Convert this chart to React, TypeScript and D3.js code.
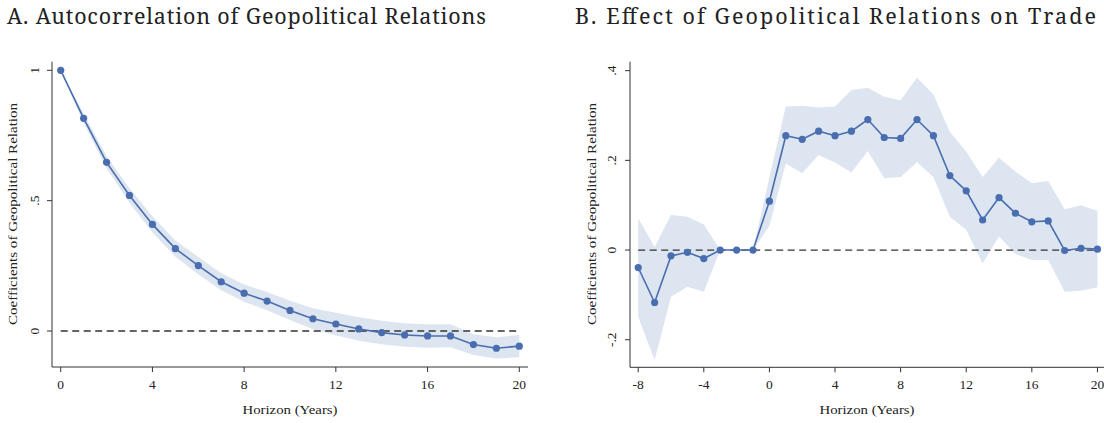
import React from "react";
import * as d3 from "d3";

const horizonA = [0, 1, 2, 3, 4, 5, 6, 7, 8, 9, 10, 11, 12, 13, 14, 15, 16, 17, 18, 19, 20];
const coefA = [1.0, 0.816, 0.647, 0.52, 0.409, 0.316, 0.251, 0.189, 0.145, 0.115, 0.079, 0.047, 0.027, 0.008, -0.006, -0.015, -0.019, -0.019, -0.052, -0.066, -0.058];
const upperA = [1.0, 0.834, 0.67, 0.548, 0.44, 0.347, 0.284, 0.222, 0.178, 0.15, 0.116, 0.087, 0.07, 0.053, 0.039, 0.03, 0.026, 0.026, -0.012, -0.024, -0.015];
const lowerA = [1.0, 0.798, 0.624, 0.492, 0.378, 0.285, 0.218, 0.156, 0.112, 0.08, 0.042, 0.007, -0.016, -0.037, -0.051, -0.06, -0.064, -0.062, -0.092, -0.105, -0.101];
const xTicksA = [0, 4, 8, 12, 16, 20];
const yTicksA = [0, 0.5, 1];

const horizonB = [-8, -7, -6, -5, -4, -3, -2, -1, 0, 1, 2, 3, 4, 5, 6, 7, 8, 9, 10, 11, 12, 13, 14, 15, 16, 17, 18, 19, 20];
const coefB = [-0.039, -0.117, -0.013, -0.005, -0.019, 0, 0, 0, 0.109, 0.255, 0.247, 0.265, 0.255, 0.265, 0.291, 0.251, 0.249, 0.291, 0.255, 0.166, 0.132, 0.067, 0.117, 0.082, 0.063, 0.065, -0.001, 0.004, 0.002];
const upperB = [0.071, 0.007, 0.078, 0.074, 0.057, 0, 0, 0, 0.162, 0.32, 0.322, 0.318, 0.32, 0.357, 0.362, 0.342, 0.334, 0.384, 0.347, 0.264, 0.219, 0.163, 0.206, 0.175, 0.149, 0.154, 0.091, 0.1, 0.087];
const lowerB = [-0.149, -0.245, -0.104, -0.082, -0.093, 0, 0, 0, 0.054, 0.193, 0.171, 0.212, 0.195, 0.173, 0.221, 0.16, 0.163, 0.196, 0.163, 0.074, 0.045, -0.03, 0.031, -0.009, -0.022, -0.022, -0.093, -0.091, -0.083];
const xTicksB = [-8, -4, 0, 4, 8, 12, 16, 20];
const yTicksB = [-0.2, 0, 0.2, 0.4];

const fmt = (v: number) => {
  if (v === 0) return "0";
  let s = String(Math.round(v * 1000) / 1000);
  s = s.replace(/^0\./, ".").replace(/^-0\./, "-.");
  return s;
};

const LINE = "#4a6db0";
const BAND = "#dce5f0";
const AXIS = "#333333";
const AXFONT = { fontFamily: '"Liberation Serif"' };
const TITLEFONT = { fontFamily: '"Noto Serif"' };

type PanelProps = {
  title: string;
  titleX: number;
  titleLen: number;
  xs: number[];
  ys: number[];
  lo: number[];
  hi: number[];
  xDomain: [number, number];
  yDomain: [number, number];
  xRange: [number, number];
  yRange: [number, number];
  xTicks: number[];
  yTicks: number[];
  tickLabelX: number;
  yLabelX: number;
};

function Panel(p: PanelProps) {
  const x = d3.scaleLinear().domain(p.xDomain).range(p.xRange);
  const y = d3.scaleLinear().domain(p.yDomain).range(p.yRange);
  const pts = p.xs.map((h, i) => ({ h, v: p.ys[i], lo: p.lo[i], hi: p.hi[i] }));
  const area = d3
    .area<any>()
    .x((d) => x(d.h))
    .y0((d) => y(d.lo))
    .y1((d) => y(d.hi));
  const line = d3
    .line<any>()
    .x((d) => x(d.h))
    .y((d) => y(d.v));
  const [x0, x1] = p.xRange;
  const [yb, yt] = p.yRange;
  const xFirst = p.xs[0];
  const xLast = p.xs[p.xs.length - 1];
  const midX = (x0 + x1) / 2;
  return (
    <g>
      <text x={p.titleX} y={24} style={{ ...TITLEFONT, fontSize: 21.5 }} fill="#222" textLength={p.titleLen} lengthAdjust="spacing">
        {p.title}
      </text>
      <path d={area(pts) || ""} fill={BAND} />
      <line x1={x(xFirst)} x2={x(xLast)} y1={y(0)} y2={y(0)} stroke="#333" strokeWidth={1.3} strokeDasharray="7,4.5" />
      <path d={line(pts) || ""} fill="none" stroke={LINE} strokeWidth={1.6} />
      {pts.map((d, i) => (
        <circle key={i} cx={x(d.h)} cy={y(d.v)} r={3.6} fill={LINE} />
      ))}
      <line x1={x0} x2={x0} y1={yt} y2={yb} stroke={AXIS} strokeWidth={1} />
      <line x1={x0} x2={x1} y1={yb} y2={yb} stroke={AXIS} strokeWidth={1} />
      {p.yTicks.map((t) => (
        <g key={"y" + t}>
          <line x1={x0 - 5} x2={x0} y1={y(t)} y2={y(t)} stroke={AXIS} strokeWidth={1} />
          <text
            transform={`translate(${p.tickLabelX},${y(t)}) rotate(-90)`}
            textAnchor="middle"
            style={{ ...AXFONT, fontSize: 13.5 }}
            fill="#222"
          >
            {fmt(t)}
          </text>
        </g>
      ))}
      {p.xTicks.map((t) => (
        <g key={"x" + t}>
          <line x1={x(t)} x2={x(t)} y1={yb} y2={yb + 5} stroke={AXIS} strokeWidth={1} />
          <text x={x(t)} y={389} textAnchor="middle" style={{ ...AXFONT, fontSize: 13.5 }} fill="#222">
            {fmt(t)}
          </text>
        </g>
      ))}
      <text
        x={midX}
        y={414}
        textAnchor="middle"
        style={{ ...AXFONT, fontSize: 13.5 }}
        fill="#222"
        textLength={95}
        lengthAdjust="spacingAndGlyphs"
      >
        Horizon (Years)
      </text>
      <text
        transform={`translate(${p.yLabelX},${214}) rotate(-90)`}
        textAnchor="middle"
        style={{ ...AXFONT, fontSize: 13.5 }}
        fill="#222"
        textLength={222}
        lengthAdjust="spacingAndGlyphs"
      >
        Coefficients of Geopolitical Relation
      </text>
    </g>
  );
}

export default function App() {
  return (
    <svg
      width={1104}
      height={423}
      style={{ position: "absolute", left: 0, top: 0, background: "#fff" }}
    >
      <rect width={1104} height={423} fill="#fff" />
      <Panel
        title="A. Autocorrelation of Geopolitical Relations"
        titleX={7}
        titleLen={479}
        xs={horizonA}
        ys={coefA}
        lo={lowerA}
        hi={upperA}
        xDomain={[-0.38, 20.38]}
        yDomain={[-0.138, 1.033]}
        xRange={[52, 528]}
        yRange={[367, 61.7]}
        xTicks={xTicksA}
        yTicks={yTicksA}
        tickLabelX={39}
        yLabelX={17}
      />
      <Panel
        title="B. Effect of Geopolitical Relations on Trade"
        titleX={575}
        titleLen={521}
        xs={horizonB}
        ys={coefB}
        lo={lowerB}
        hi={upperB}
        xDomain={[-8.5, 20.4]}
        yDomain={[-0.2615, 0.42]}
        xRange={[630, 1104]}
        yRange={[367.3, 61.7]}
        xTicks={xTicksB}
        yTicks={yTicksB}
        tickLabelX={616}
        yLabelX={596}
      />
    </svg>
  );
}
